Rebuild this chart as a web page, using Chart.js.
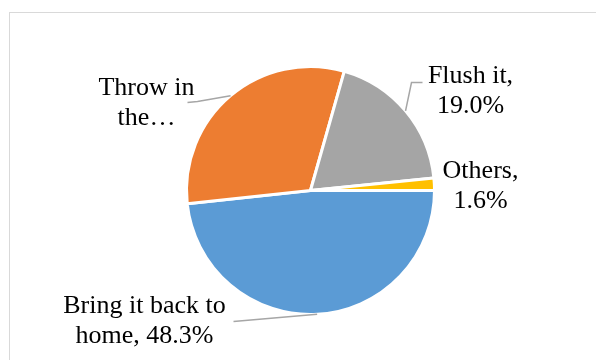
<!DOCTYPE html>
<html>
<head>
<meta charset="utf-8">
<script src="https://cdn.jsdelivr.net/npm/chart.js@4/dist/chart.umd.min.js"></script>
<style>
  html, body { margin: 0; padding: 0; background: #fff; overflow: hidden; }
  #wrap { position: relative; width: 596px; height: 360px; }
  #frame { position: absolute; left: 9px; top: 12px; width: 640px; height: 400px; border: 1px solid #d9d9d9; box-sizing: border-box; }
  #chart { position: absolute; left: 0; top: 0; }
</style>
</head>
<body>
<div id="wrap">
  <div id="frame"></div>
  <canvas id="chart" width="596" height="360"></canvas>
</div>
<script>
const categories = ['Bring it back to home', 'Throw in the…', 'Flush it', 'Others'];
const shares = [48.3, 31.1, 19.0, 1.6];
const sliceColors = ['#5b9bd5', '#ed7d31', '#a5a5a5', '#ffc000'];

const pct = (i) => shares[i].toFixed(1) + '%';

// wrapped data label text, one entry per slice
const labelLines = [
    ['Bring it back to', 'home, ' + pct(0)],
    ['Throw in', 'the…'],
    ['Flush it,', pct(2)],
    ['Others,', pct(3)],
];

// label placement relative to pie centre: x of text centre, first baseline
const labelPos = [
    { dx: -166, dy: 122 },
    { dx: -164, dy: -96 },
    { dx: 160, dy: -108 },
    { dx: 170, dy: -13 },
];

// leader lines: extra points after the arc anchor (relative to centre)
const leaders = [
    [[-77, 131]],
    [[-113, -89], [-123, -88]],
    [[101, -108], [112, -108]],
    null,
];

const labelPlugin = {
    id: 'pieLabels',
    afterDatasetsDraw(chart) {
        const ctx = chart.ctx;
        const arcs = chart.getDatasetMeta(0).data;
        ctx.save();
        arcs.forEach((arc, i) => {
            const { x, y, startAngle, endAngle, outerRadius } = arc.getProps(['x', 'y', 'startAngle', 'endAngle', 'outerRadius'], true);
            const mid = (startAngle + endAngle) / 2;
            if (leaders[i]) {
                ctx.strokeStyle = '#a6a6a6';
                ctx.lineWidth = 1.5;
                ctx.beginPath();
                ctx.moveTo(x + Math.cos(mid) * outerRadius, y + Math.sin(mid) * outerRadius);
                leaders[i].forEach(p => ctx.lineTo(x + p[0], y + p[1]));
                ctx.stroke();
            }
            ctx.fillStyle = '#000';
            ctx.font = '26px "Liberation Serif", "Times New Roman", serif';
            ctx.textAlign = 'center';
            ctx.textBaseline = 'alphabetic';
            labelLines[i].forEach((line, k) => {
                ctx.fillText(line, x + labelPos[i].dx, y + labelPos[i].dy + k * 30);
            });
        });
        ctx.restore();
    }
};

new Chart(document.getElementById('chart'), {
    type: 'pie',
    data: {
        labels: categories,
        datasets: [{
            data: shares,
            backgroundColor: sliceColors,
            borderColor: '#ffffff',
            borderWidth: 3,
        }]
    },
    options: {
        responsive: false,
        animation: false,
        rotation: 90,
        layout: { padding: { left: 185, right: 160, top: 65, bottom: 44 } },
        plugins: {
            legend: { display: false },
            tooltip: { enabled: false },
        }
    },
    plugins: [labelPlugin]
});
</script>
</body>
</html>
